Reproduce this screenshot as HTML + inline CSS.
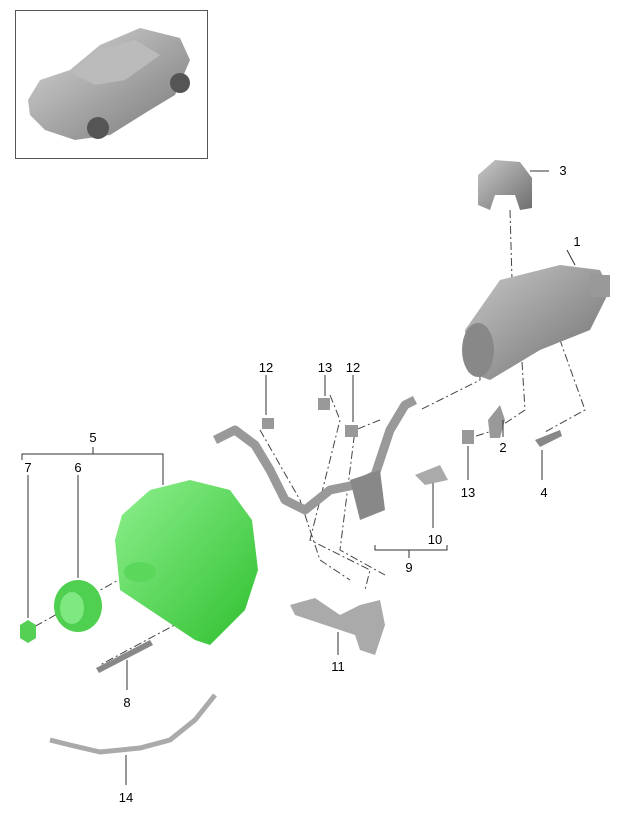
<!DOCTYPE html>
<html><head><style>
html,body{margin:0;padding:0;background:#fff;}
svg{display:block}
text{font-family:"Liberation Sans",sans-serif;font-size:13px;fill:#000;text-anchor:middle}
</style></head><body>
<svg width="630" height="817" viewBox="0 0 630 817" xmlns="http://www.w3.org/2000/svg">
<defs>
<linearGradient id="car" x1="0" y1="0" x2="1" y2="1"><stop offset="0" stop-color="#d8d8d8"/><stop offset="1" stop-color="#777"/></linearGradient>
<linearGradient id="gr" x1="0" y1="0" x2="1" y2="1"><stop offset="0" stop-color="#c8c8c8"/><stop offset="1" stop-color="#6e6e6e"/></linearGradient>
<linearGradient id="gn" x1="0" y1="0" x2="1" y2="1"><stop offset="0" stop-color="#8ef08e"/><stop offset="1" stop-color="#2fc02f"/></linearGradient>
</defs>
<!-- car box -->
<rect x="15.5" y="10.5" width="192" height="148" fill="#fff" stroke="#555"/>
<path d="M28 100 L40 80 L70 70 L100 45 L140 28 L180 38 L190 60 L175 95 L150 110 L110 135 L75 140 L45 130 L30 115 Z" fill="url(#car)"/>
<path d="M70 72 L100 50 L135 40 L160 55 L125 80 L95 85 Z" fill="#bbb"/>
<circle cx="98" cy="128" r="11" fill="#555"/><circle cx="180" cy="83" r="10" fill="#555"/>
<!-- dashed lines -->
<g fill="none" stroke="#444" stroke-width="1" stroke-dasharray="8,3,2,3">
<path d="M510 210 L512 280"/>
<path d="M140 568 L32 628"/>
<path d="M240 590 L100 665"/>
<path d="M470 325 L480 320 L480 380 L420 410"/>
<path d="M575 315 L575 330 L560 340 L585 410 L545 432"/>
<path d="M520 330 L525 410 L495 430 L470 438"/>
<path d="M330 395 L340 420 L310 540 L370 570 L365 590"/>
<path d="M380 420 L355 430 L340 550 L385 575"/>
<path d="M260 430 L300 500 L320 560 L350 580"/>
</g>
<!-- part 3 bracket -->
<path d="M478 175 L495 160 L520 162 L532 178 L532 208 L520 210 L515 195 L495 195 L490 210 L478 205 Z" fill="url(#gr)"/>
<!-- starter motor -->
<path d="M465 330 L500 280 L560 265 L600 270 L610 290 L590 330 L540 350 L490 380 L468 372 Z" fill="url(#gr)"/>
<ellipse cx="478" cy="350" rx="16" ry="27" fill="#888"/>
<rect x="590" y="275" width="20" height="22" fill="#999"/>
<!-- small parts -->
<rect x="262" y="418" width="12" height="11" fill="#999"/>
<rect x="318" y="398" width="12" height="12" fill="#999"/>
<rect x="345" y="425" width="13" height="12" fill="#999"/>
<rect x="462" y="430" width="12" height="14" fill="#999"/>
<path d="M488 420 L500 405 L505 420 L500 438 L490 438 Z" fill="#999"/>
<path d="M535 440 L560 430 L562 436 L540 447 Z" fill="#888"/>
<path d="M415 475 L440 465 L448 480 L425 485 Z" fill="#aaa"/>
<!-- cable 9 -->
<path d="M215 440 L235 430 L255 445 L270 470 L285 500 L305 510 L330 490 L355 485 L375 475 L390 430 L405 405 L415 400" fill="none" stroke="#999" stroke-width="9" stroke-linejoin="round"/>
<path d="M350 480 L380 470 L385 510 L360 520 Z" fill="#888"/>
<!-- bracket 11 -->
<path d="M290 605 L315 598 L340 615 L360 605 L380 600 L385 625 L375 655 L360 650 L355 635 L325 625 L295 615 Z" fill="#aaa"/>
<!-- alternator -->
<path d="M122 515 L150 490 L190 480 L230 490 L252 520 L258 570 L245 610 L210 645 L195 640 L150 610 L120 590 L115 540 Z" fill="url(#gn)"/>
<ellipse cx="140" cy="572" rx="16" ry="10" fill="#5bd85b"/>
<ellipse cx="78" cy="606" rx="24" ry="26" fill="#50d050"/>
<ellipse cx="72" cy="608" rx="12" ry="16" fill="#80e880"/>
<path d="M20 625 L28 620 L36 625 L36 638 L28 643 L20 638 Z" fill="#55d055"/>
<!-- bolt 8 -->
<path d="M96 668 L150 640 L153 645 L99 673 Z" fill="#888"/>
<!-- cable 14 -->
<path d="M50 740 L70 745 L100 752 L140 748 L170 740 L195 720 L215 695" fill="none" stroke="#aaa" stroke-width="5"/>
<!-- leader lines -->
<g stroke="#333" stroke-width="1" fill="none">
<path d="M22 460 L22 454 L163 454 L163 460 M93 447 L93 454"/>
<path d="M28 475 L28 618"/><path d="M78 475 L78 578"/><path d="M163 460 L163 485"/>
<path d="M549 171 L530 171"/><path d="M567 250 L575 265"/>
<path d="M266 375 L266 415"/><path d="M325 375 L325 396"/><path d="M353 375 L353 422"/>
<path d="M503 437 L503 420"/><path d="M542 480 L542 450"/><path d="M468 480 L468 446"/>
<path d="M433 528 L433 483"/><path d="M375 545 L375 550 L447 550 L447 545 M409 550 L409 558"/>
<path d="M338 655 L338 632"/><path d="M127 690 L127 660"/><path d="M126 785 L126 755"/>
</g>
<text x="563" y="175">3</text><text x="577" y="246">1</text>
<text x="266" y="372">12</text><text x="325" y="372">13</text><text x="353" y="372">12</text>
<text x="93" y="442">5</text><text x="28" y="472">7</text><text x="78" y="472">6</text>
<text x="503" y="452">2</text><text x="544" y="497">4</text><text x="468" y="497">13</text>
<text x="435" y="544">10</text><text x="409" y="572">9</text><text x="338" y="671">11</text>
<text x="127" y="707">8</text><text x="126" y="802">14</text>
</svg>
</body></html>
